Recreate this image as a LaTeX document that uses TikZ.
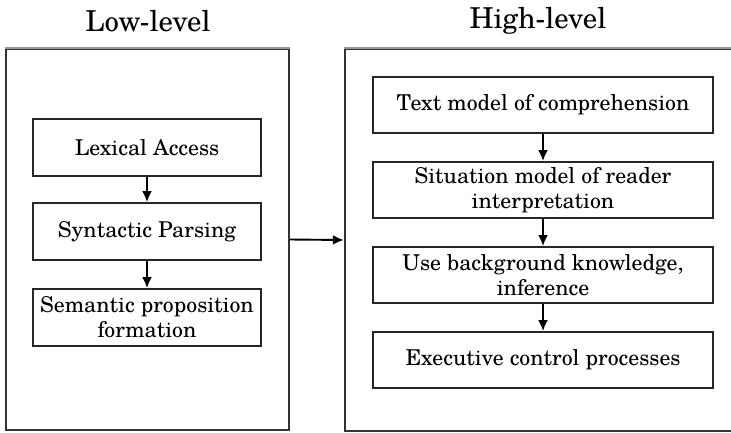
\documentclass[tikz,border=0pt]{standalone}
\usepackage{fontspec}
\setmainfont{TeX Gyre Schola}
\usetikzlibrary{arrows.meta}
\begin{document}
\begin{tikzpicture}[x=1pt,y=-1pt,
  stepbox/.style={draw=black!85, line width=1.9pt, minimum width=228pt, minimum height=57pt, inner sep=0pt, align=center, font=\fontsize{21.8}{25}\selectfont},
  hibox/.style={stepbox, minimum width=340pt, minimum height=56pt},
  bigbox/.style={draw=black!80, line width=2.4pt, inner sep=0pt},
  title/.style={font=\fontsize{28.8}{33}\selectfont, inner sep=0pt},
  arr/.style={-{Latex[length=11pt,width=10pt]}, line width=1.9pt}]
\useasboundingbox (0,0) rectangle (731,432);
\clip (0,0) rectangle (731,432);
% big boxes
\node[bigbox, minimum width=283pt, minimum height=381pt] (low) at (147.5,239.5) {};
\node[bigbox, minimum width=420pt, minimum height=382pt] (high) at (555,240) {};
\draw[gray!80, line width=2.4pt] (low.north west) -- (low.north east);
\draw[gray!80, line width=2.4pt] (high.north west) -- (high.north east);
% titles
\node[title] (tl) at (148,21) {Low-level};
\node[title] (th) at (538,21) {High-level};
% low-level steps
\node[stepbox] (lex) at (147,147.5) {Lexical Access};
\node[stepbox] (syn) at (147,231.5) {Syntactic Parsing};
\node[stepbox] (sem) at (147,317.5) {Semantic proposition\\formation};
% high-level steps
\node[hibox] (txt) at (543,105) {Text model of comprehension};
\node[hibox] (sit) at (543,190) {Situation model of reader\\interpretation};
\node[hibox] (bg) at (543,275) {Use background knowledge,\\inference};
\node[hibox] (exe) at (543,360) {Executive control processes};
% arrows
\draw[arr] (lex) -- (syn);
\draw[arr] (syn) -- (sem);
\draw[arr] (txt) -- (sit);
\draw[arr] (sit) -- (bg);
\draw[arr] (bg) -- (exe);
\draw[arr] (low.east) -- (high.west);
\end{tikzpicture}
\end{document}
